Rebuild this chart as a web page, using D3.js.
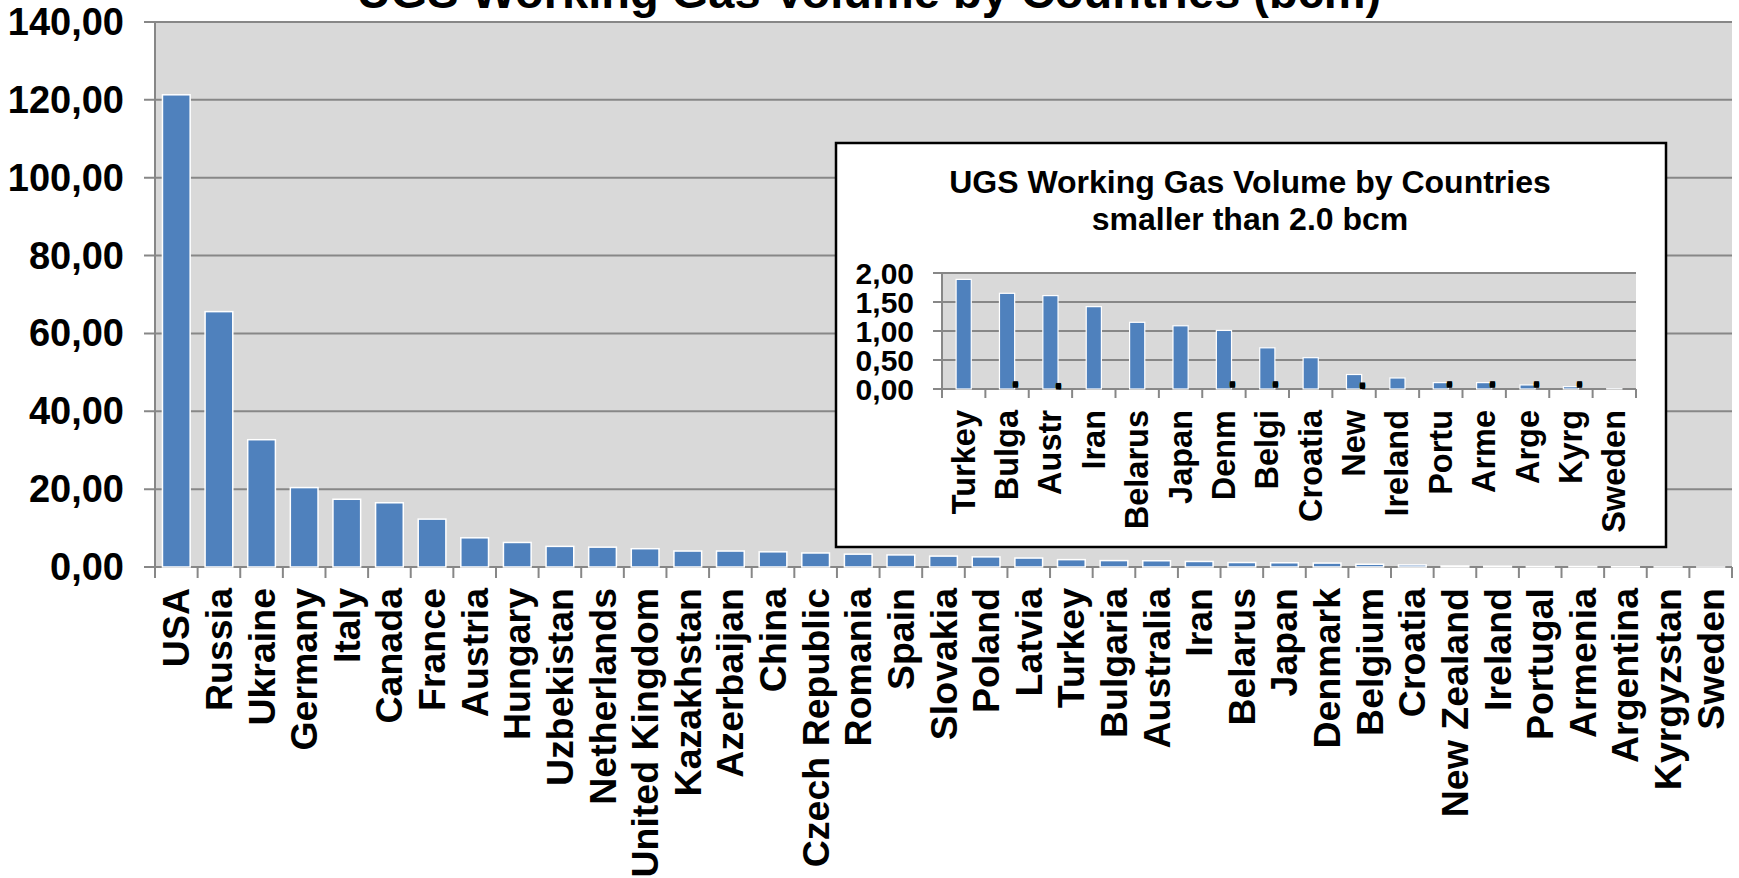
<!DOCTYPE html>
<html>
<head>
<meta charset="utf-8">
<script src="https://cdn.jsdelivr.net/npm/d3@7"></script>
<style>
  html, body { margin: 0; padding: 0; background: #fff; overflow: hidden; }
  svg { display: block; font-family: "Liberation Sans", Arial, Helvetica, sans-serif; font-weight: bold; }
</style>
</head>
<body>
<svg id="chart" width="1739" height="878"></svg>
<script>
// values (bcm)
const countries = ["USA", "Russia", "Ukraine", "Germany", "Italy", "Canada", "France", "Austria",
    "Hungary", "Uzbekistan", "Netherlands", "United Kingdom", "Kazakhstan", "Azerbaijan", "China",
    "Czech Republic", "Romania", "Spain", "Slovakia", "Poland", "Latvia", "Turkey", "Bulgaria",
    "Australia", "Iran", "Belarus", "Japan", "Denmark", "Belgium", "Croatia", "New Zealand",
    "Ireland", "Portugal", "Armenia", "Argentina", "Kyrgyzstan", "Sweden"];
const volumes = [121.3, 65.6, 32.7, 20.4, 17.4, 16.5, 12.3, 7.5,
    6.3, 5.3, 5.1, 4.7, 4.1, 4.1, 3.9,
    3.6, 3.3, 3.1, 2.8, 2.6, 2.3, 1.89, 1.65,
    1.61, 1.42, 1.15, 1.09, 1.01, 0.71, 0.54, 0.25,
    0.19, 0.11, 0.11, 0.07, 0.04, 0.005];
const mainTicks = [0, 20, 40, 60, 80, 100, 120, 140];

// inset: countries under 2.0 bcm, labels as truncated in the original
const smallLabels = ["Turkey", "Bulga...", "Austr...", "Iran", "Belarus", "Japan", "Denm...", "Belgi...",
    "Croatia", "New...", "Ireland", "Portu...", "Arme...", "Arge...", "Kyrg...", "Sweden"];
const smallTicks = [0, 0.5, 1, 1.5, 2];

const title = "UGS Working Gas Volume by Countries (bcm)";
const insetTitle = ["UGS Working Gas Volume by Countries", "smaller than 2.0 bcm"];

const fmt = d3.formatLocale({decimal: ",", thousands: ".", grouping: [3], currency: ["", ""]}).format(".2f");

const svg = d3.select("#chart");
const gridColor = "#878787";
const barColor = "#4f81bd";

// ---------- main chart ----------
const plot = {left: 155, right: 1732, top: 22, bottom: 567};

const x = d3.scaleBand()
    .domain(countries)
    .range([plot.left, plot.right])
    .paddingInner(0.35)
    .paddingOuter(0.175);
const y = d3.scaleLinear().domain([0, 140]).range([plot.bottom, plot.top]);

svg.append("rect")
    .attr("x", plot.left).attr("y", plot.top)
    .attr("width", plot.right - plot.left).attr("height", plot.bottom - plot.top)
    .attr("fill", "#d9d9d9");

svg.append("g")
    .selectAll("line")
    .data(mainTicks)
    .join("line")
    .attr("x1", plot.left - 11).attr("x2", plot.right)
    .attr("y1", d => y(d)).attr("y2", d => y(d))
    .attr("stroke", gridColor).attr("stroke-width", 2);

svg.append("line")
    .attr("x1", plot.left).attr("x2", plot.left)
    .attr("y1", plot.top).attr("y2", plot.bottom)
    .attr("stroke", gridColor).attr("stroke-width", 2);

const half = (x.step() - x.bandwidth()) / 2;
const bounds = countries.map(d => x(d) - half).concat([x(countries[countries.length - 1]) + x.bandwidth() + half]);
svg.append("g")
    .selectAll("line")
    .data(bounds)
    .join("line")
    .attr("x1", d => d).attr("x2", d => d)
    .attr("y1", plot.bottom).attr("y2", plot.bottom + 11)
    .attr("stroke", gridColor).attr("stroke-width", 2);

svg.append("g")
    .selectAll("rect")
    .data(countries)
    .join("rect")
    .attr("x", d => x(d))
    .attr("width", x.bandwidth())
    .attr("y", (d, i) => y(volumes[i]))
    .attr("height", (d, i) => y(0) - y(volumes[i]))
    .attr("fill", barColor)
    .attr("stroke", "#fff")
    .attr("stroke-width", 1.5);

svg.append("g")
    .selectAll("text")
    .data(mainTicks)
    .join("text")
    .attr("x", 124)
    .attr("y", d => y(d))
    .attr("text-anchor", "end")
    .attr("dominant-baseline", "central")
    .attr("font-size", 38)
    .text(d => fmt(d));

svg.append("g")
    .selectAll("text")
    .data(countries)
    .join("text")
    .attr("transform", d => `translate(${x(d) + x.bandwidth() / 2},${plot.bottom + 21}) rotate(-90)`)
    .attr("text-anchor", "end")
    .attr("dominant-baseline", "central")
    .attr("font-size", 37.5)
    .text(d => d);

svg.append("text")
    .attr("x", 869).attr("y", 8)
    .attr("text-anchor", "middle")
    .attr("font-size", 47)
    .text(title);

// ---------- inset chart ----------
const smallVolumes = volumes.filter(v => v < 2);
const box = {left: 836, top: 143, right: 1666, bottom: 547};
const ip = {left: 942, right: 1636, top: 273, bottom: 389};

svg.append("rect")
    .attr("x", box.left).attr("y", box.top)
    .attr("width", box.right - box.left).attr("height", box.bottom - box.top)
    .attr("fill", "#fff").attr("stroke", "#000").attr("stroke-width", 2.5);

svg.append("g")
    .selectAll("text")
    .data(insetTitle)
    .join("text")
    .attr("x", 1250)
    .attr("y", (d, i) => 193 + i * 37)
    .attr("text-anchor", "middle")
    .attr("font-size", 32)
    .text(d => d);

const xs = d3.scaleBand()
    .domain(smallLabels)
    .range([ip.left, ip.right])
    .paddingInner(0.65)
    .paddingOuter(0.325);
const ys = d3.scaleLinear().domain([0, 2]).range([ip.bottom, ip.top]);

svg.append("rect")
    .attr("x", ip.left).attr("y", ip.top)
    .attr("width", ip.right - ip.left).attr("height", ip.bottom - ip.top)
    .attr("fill", "#d9d9d9");

svg.append("g")
    .selectAll("line")
    .data(smallTicks)
    .join("line")
    .attr("x1", ip.left - 9).attr("x2", ip.right)
    .attr("y1", d => ys(d)).attr("y2", d => ys(d))
    .attr("stroke", gridColor).attr("stroke-width", 2);

svg.append("line")
    .attr("x1", ip.left).attr("x2", ip.left)
    .attr("y1", ip.top).attr("y2", ip.bottom)
    .attr("stroke", gridColor).attr("stroke-width", 2);

const halfS = (xs.step() - xs.bandwidth()) / 2;
const boundsS = smallLabels.map(d => xs(d) - halfS).concat([xs(smallLabels[smallLabels.length - 1]) + xs.bandwidth() + halfS]);
svg.append("g")
    .selectAll("line")
    .data(boundsS)
    .join("line")
    .attr("x1", d => d).attr("x2", d => d)
    .attr("y1", ip.bottom).attr("y2", ip.bottom + 9)
    .attr("stroke", gridColor).attr("stroke-width", 2);

svg.append("g")
    .selectAll("rect")
    .data(smallLabels)
    .join("rect")
    .attr("x", d => xs(d))
    .attr("width", xs.bandwidth())
    .attr("y", (d, i) => ys(smallVolumes[i]))
    .attr("height", (d, i) => ys(0) - ys(smallVolumes[i]))
    .attr("fill", barColor)
    .attr("stroke", "#fff")
    .attr("stroke-width", 1.2);

svg.append("g")
    .selectAll("text")
    .data(smallTicks)
    .join("text")
    .attr("x", 914)
    .attr("y", d => ys(d))
    .attr("text-anchor", "end")
    .attr("dominant-baseline", "central")
    .attr("font-size", 30)
    .text(d => fmt(d));

// labels: the visible part ends below the axis; the three dots are piled
// into one, sitting just above the axis, as in the original
const lab = svg.append("g")
    .selectAll("text")
    .data(smallLabels)
    .join("text")
    .attr("transform", d => `translate(${xs(d) + xs.bandwidth() / 2},${ip.bottom + 21}) rotate(-90)`)
    .attr("text-anchor", "start")
    .attr("dominant-baseline", "central")
    .attr("font-size", 32.5);
lab.append("tspan")
    .text(d => d.replace("...", ""));
lab.each(function(d) {
    const t = d3.select(this);
    const w = t.select("tspan").node().getComputedTextLength();
    t.attr("x", -w);
    if (d.endsWith("...")) {
        t.append("tspan")
            .attr("dx", 20)
            .attr("textLength", 11)
            .attr("lengthAdjust", "spacing")
            .text("...");
    }
});
</script>
</body>
</html>
